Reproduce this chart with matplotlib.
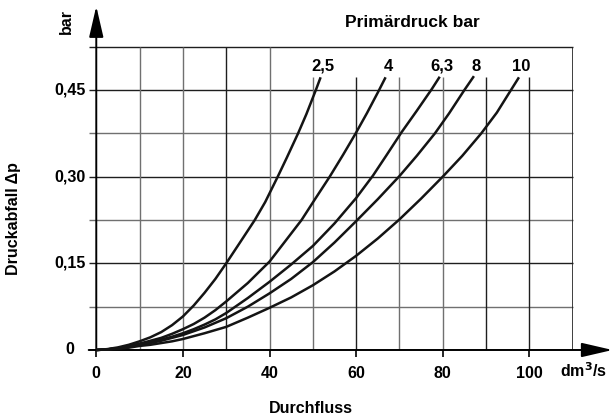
import numpy as np
import matplotlib
matplotlib.use("Agg")
import matplotlib.pyplot as plt

plt.rcParams['font.family'] = ['Liberation Sans', 'DejaVu Sans']
plt.rcParams['font.weight'] = 'bold'
plt.rcParams['mathtext.default'] = 'bf'

# Durchfluss (dm3/s) vs Druckabfall (bar), one curve per Primaerdruck
curve_labels = ["2,5", "4", "6,3", "8", "10"]

q_25 = [0, 2.5, 5, 7.5, 10, 12.5, 15, 17.5, 20, 22.5, 25, 27.5, 30, 33, 36.6,
        39, 41.9, 44, 46.6, 48.5, 50.7, 51.8]
dp_25 = [0, 0.0015, 0.0045, 0.009, 0.015, 0.022, 0.031, 0.043, 0.058, 0.077, 0.099,
         0.123, 0.15, 0.184, 0.225, 0.256, 0.30, 0.333, 0.375, 0.408, 0.45, 0.472]

q_4 = [0, 2.5, 5, 7.5, 10, 12.5, 15, 17.5, 20, 22.5, 25, 27.5, 30, 35, 40, 43.5,
       47.4, 50.5, 53.9, 57, 59.9, 62.5, 65.1, 66.8]
dp_4 = [0, 0.001, 0.003, 0.007, 0.011, 0.016, 0.021, 0.028, 0.036, 0.045, 0.056,
        0.069, 0.084, 0.116, 0.153, 0.187, 0.225, 0.261, 0.30, 0.338, 0.375, 0.41,
        0.447, 0.472]

q_63 = [0, 2.5, 5, 7.5, 10, 12.5, 15, 17.5, 20, 22.5, 25, 27.5, 30, 35, 40, 45, 50,
        55, 60, 63.9, 67, 70.5, 74, 77.5, 79.3]
dp_63 = [0, 0.001, 0.003, 0.006, 0.010, 0.014, 0.018, 0.023, 0.029, 0.036, 0.044,
         0.053, 0.064, 0.090, 0.118, 0.148, 0.180, 0.219, 0.263, 0.302, 0.337, 0.377,
         0.414, 0.452, 0.473]

q_8 = [0, 2.5, 5, 7.5, 10, 12.5, 15, 17.5, 20, 25, 30, 35, 40, 45, 50, 55, 60, 65,
       70, 74, 78.2, 81.5, 85, 87.2]
dp_8 = [0, 0.001, 0.003, 0.005, 0.009, 0.012, 0.016, 0.021, 0.026, 0.039, 0.055,
        0.075, 0.098, 0.123, 0.152, 0.186, 0.223, 0.261, 0.301, 0.336, 0.375, 0.41,
        0.45, 0.474]

q_10 = [0, 2.5, 5, 7.5, 10, 12.5, 15, 17.5, 20, 22.5, 25, 30, 35, 40, 45, 50, 55,
        60, 65, 70, 75, 80, 84.5, 88.9, 92.5, 95.5, 97.6]
dp_10 = [0, 0.001, 0.002, 0.004, 0.007, 0.009, 0.012, 0.015, 0.019, 0.024, 0.029,
         0.040, 0.056, 0.073, 0.091, 0.112, 0.136, 0.163, 0.193, 0.226, 0.262, 0.300,
         0.336, 0.375, 0.411, 0.447, 0.472]

x_ticks = [0, 20, 40, 60, 80, 100]
x_tick_labels = ["0", "20", "40", "60", "80", "100"]
y_ticks = [0, 0.15, 0.30, 0.45]
y_tick_labels = ["0", "0,15", "0,30", "0,45"]

curves = [(q_25, dp_25), (q_4, dp_4), (q_63, dp_63), (q_8, dp_8), (q_10, dp_10)]

fig = plt.figure(figsize=(6.14, 4.19), dpi=100)
ax = fig.add_axes([0.1568, 0.1647, 0.7759, 0.7239])
ax.set_xlim(0, 110)
ax.set_ylim(0, 0.525)
ax.axis('off')

xmax = 110
ytop = 0.525
step_y = 0.075
left_ext = -1.75

# horizontal grid lines (extend a bit to the left of the y axis)
for k in range(1, 8):
  y = k * step_y
  major = (k % 2 == 0) or k == 7
  ax.hlines(y, left_ext, xmax, colors='#1e1e1e' if major else '#707070',
            lw=1.0, clip_on=False, zorder=1)

# vertical grid lines
for xv in range(10, 110, 10):
  top = ytop if xv < 50 else 0.472
  dark = xv in (30, 60, 90, 100)
  ax.vlines(xv, 0, top, colors='#1e1e1e' if dark else '#707070', lw=1.0, zorder=1)
ax.vlines(xmax, 0, ytop, colors='#1e1e1e', lw=1.2, zorder=1)

# bottom tick marks
ax.vlines(x_ticks, -0.012, 0, colors='black', lw=1.2, clip_on=False)

# axes with arrows
arrow = dict(arrowstyle='-|>,head_length=0.95,head_width=0.22', mutation_scale=20,
             lw=1.4, color='black', shrinkA=0, shrinkB=0)
ax.annotate('', xy=(119.2, 0), xytext=(left_ext, 0), annotation_clip=False,
            arrowprops=arrow, zorder=3)
ax.annotate('', xy=(0, 0.595), xytext=(0, 0), annotation_clip=False,
            arrowprops=arrow, zorder=3)

# curves
for (q, dp), lab in zip(curves, curve_labels):
  ax.plot(q, dp, color='#141414', lw=1.8, solid_capstyle='butt',
          solid_joinstyle='round', zorder=4, clip_on=False)
  ax.text(q[-1] + 0.6, 0.491, lab, ha='center', va='center', fontsize=12,
          fontweight='bold')

# tick labels
for xv, lab in zip(x_ticks, x_tick_labels):
  ax.text(xv, -0.04, lab, ha='center', va='center', fontsize=11.5, fontweight='bold')
for yv, lab in zip(y_ticks, y_tick_labels):
  if yv == 0:
    ax.text(-6.1, yv, lab, ha='center', va='center', fontsize=11.5, fontweight='bold')
  else:
    ax.text(-2.4, yv, lab, ha='right', va='center', fontsize=11.5, fontweight='bold')

ax.text(107, -0.046, "dm$^{3}$/s", ha='left', va='baseline', fontsize=11.5,
        fontweight='bold')
ax.text(-6.8, 0.569, "bar", ha='center', va='center', rotation=90, fontsize=11.5,
        fontweight='bold')
ax.text(-19.1, 0.228, "Druckabfall Δp", ha='center', va='center', rotation=90,
        fontsize=11.5, fontweight='bold')
ax.text(49.5, -0.101, "Durchfluss", ha='center', va='center', fontsize=11.5,
        fontweight='bold')
ax.text(72.9, 0.566, "Primärdruck bar", ha='center', va='center', fontsize=12.5,
        fontweight='bold')

fig.savefig("out.png", dpi=100)
